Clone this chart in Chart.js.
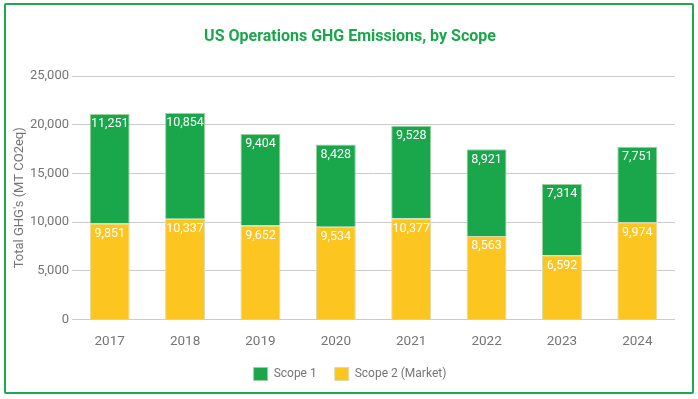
<!DOCTYPE html>
<html lang="en">
<head>
<meta charset="UTF-8">
<title>US Operations GHG Emissions, by Scope</title>
<script src="https://cdn.jsdelivr.net/npm/chart.js"></script>
<style>
    body {
        margin: 0;
        background: #fff;
        font-family: Roboto, Arial, sans-serif;
    }
    .frame {
        position: absolute;
        left: 4px;
        top: 3px;
        width: 686px;
        height: 387px;
        border: 2px solid #1fa84f;
        border-radius: 2px;
    }
    .chart-box {
        position: absolute;
        left: 0;
        top: 0;
        width: 698px;
        height: 399px;
    }
</style>
</head>
<body>
<div class="frame"></div>
<div class="chart-box"><canvas id="chart" width="698" height="399"></canvas></div>

<script>
    const years = ["2017", "2018", "2019", "2020", "2021", "2022", "2023", "2024"];
    const scope1 = [11251, 10854, 9404, 8428, 9528, 8921, 7314, 7751];
    const scope2 = [9851, 10337, 9652, 9534, 10377, 8563, 6592, 9974];
    const yTicks = [0, 5000, 10000, 15000, 20000, 25000];

    const GREEN = "#1aa74b";
    const YELLOW = "#fdc520";
    const GREY = "#757575";

    // white value labels near top of each segment
    const valueLabels = {
        id: "valueLabels",
        afterDatasetsDraw(chart) {
            const ctx = chart.ctx;
            ctx.save();
            ctx.fillStyle = "#fff";
            ctx.font = "12.5px Roboto";
            ctx.textAlign = "center";
            ctx.textBaseline = "top";
            chart.data.datasets.forEach((ds, i) => {
                chart.getDatasetMeta(i).data.forEach((bar, j) => {
                    ctx.fillText(ds.data[j].toLocaleString("en-US"), bar.x, bar.y + 4);
                });
            });
            ctx.restore();
        }
    };

    new Chart(document.getElementById("chart"), {
        type: "bar",
        data: {
            labels: years,
            datasets: [
                {
                    label: "Scope 2 (Market)",
                    data: scope2,
                    backgroundColor: YELLOW,
                    borderColor: "#d9dcb0",
                    borderWidth: 1
                },
                {
                    label: "Scope 1",
                    data: scope1,
                    backgroundColor: GREEN,
                    borderColor: "#9fcf9a",
                    borderWidth: 1
                }
            ]
        },
        options: {
            responsive: false,
            animation: false,
            devicePixelRatio: 1,
            layout: { padding: { left: 25, right: 23, top: 0, bottom: 8.5 } },
            categoryPercentage: 1,
            barPercentage: 0.53,
            scales: {
                x: {
                    stacked: true,
                    afterFit(scale) { scale.height = 30; },
                    grid: { display: false },
                    border: { display: false },
                    ticks: { color: GREY, font: { family: "Roboto", size: 13.5 }, padding: 6 }
                },
                y: {
                    stacked: true,
                    min: 0,
                    max: 25000,
                    afterBuildTicks(scale) {
                        scale.ticks = yTicks.map(v => ({ value: v }));
                    },
                    afterFit(scale) { scale.width = 47; },
                    grid: { color: "#cccccc", drawTicks: false },
                    border: { display: false },
                    ticks: {
                        color: GREY,
                        padding: 3,
                        font: { family: "Roboto", size: 13 },
                        callback: v => v.toLocaleString("en-US")
                    },
                    title: {
                        display: true,
                        text: "Total GHG's (MT CO2eq)",
                        color: GREY,
                        font: { family: "Roboto", size: 13 },
                        padding: { top: -13, bottom: 0 }
                    }
                }
            },
            plugins: {
                title: {
                    display: true,
                    text: "US Operations GHG Emissions, by Scope",
                    color: GREEN,
                    font: { family: "Roboto", size: 16, weight: "bold" },
                    padding: { top: 27, bottom: 29.8 }
                },
                legend: {
                    position: "bottom",
                    reverse: true,
                    labels: {
                        color: GREY,
                        font: { family: "Roboto", size: 12 },
                        boxWidth: 14,
                        boxHeight: 13,
                        padding: 18
                    }
                },
                tooltip: { enabled: false }
            }
        },
        plugins: [valueLabels]
    });
</script>
</body>
</html>
